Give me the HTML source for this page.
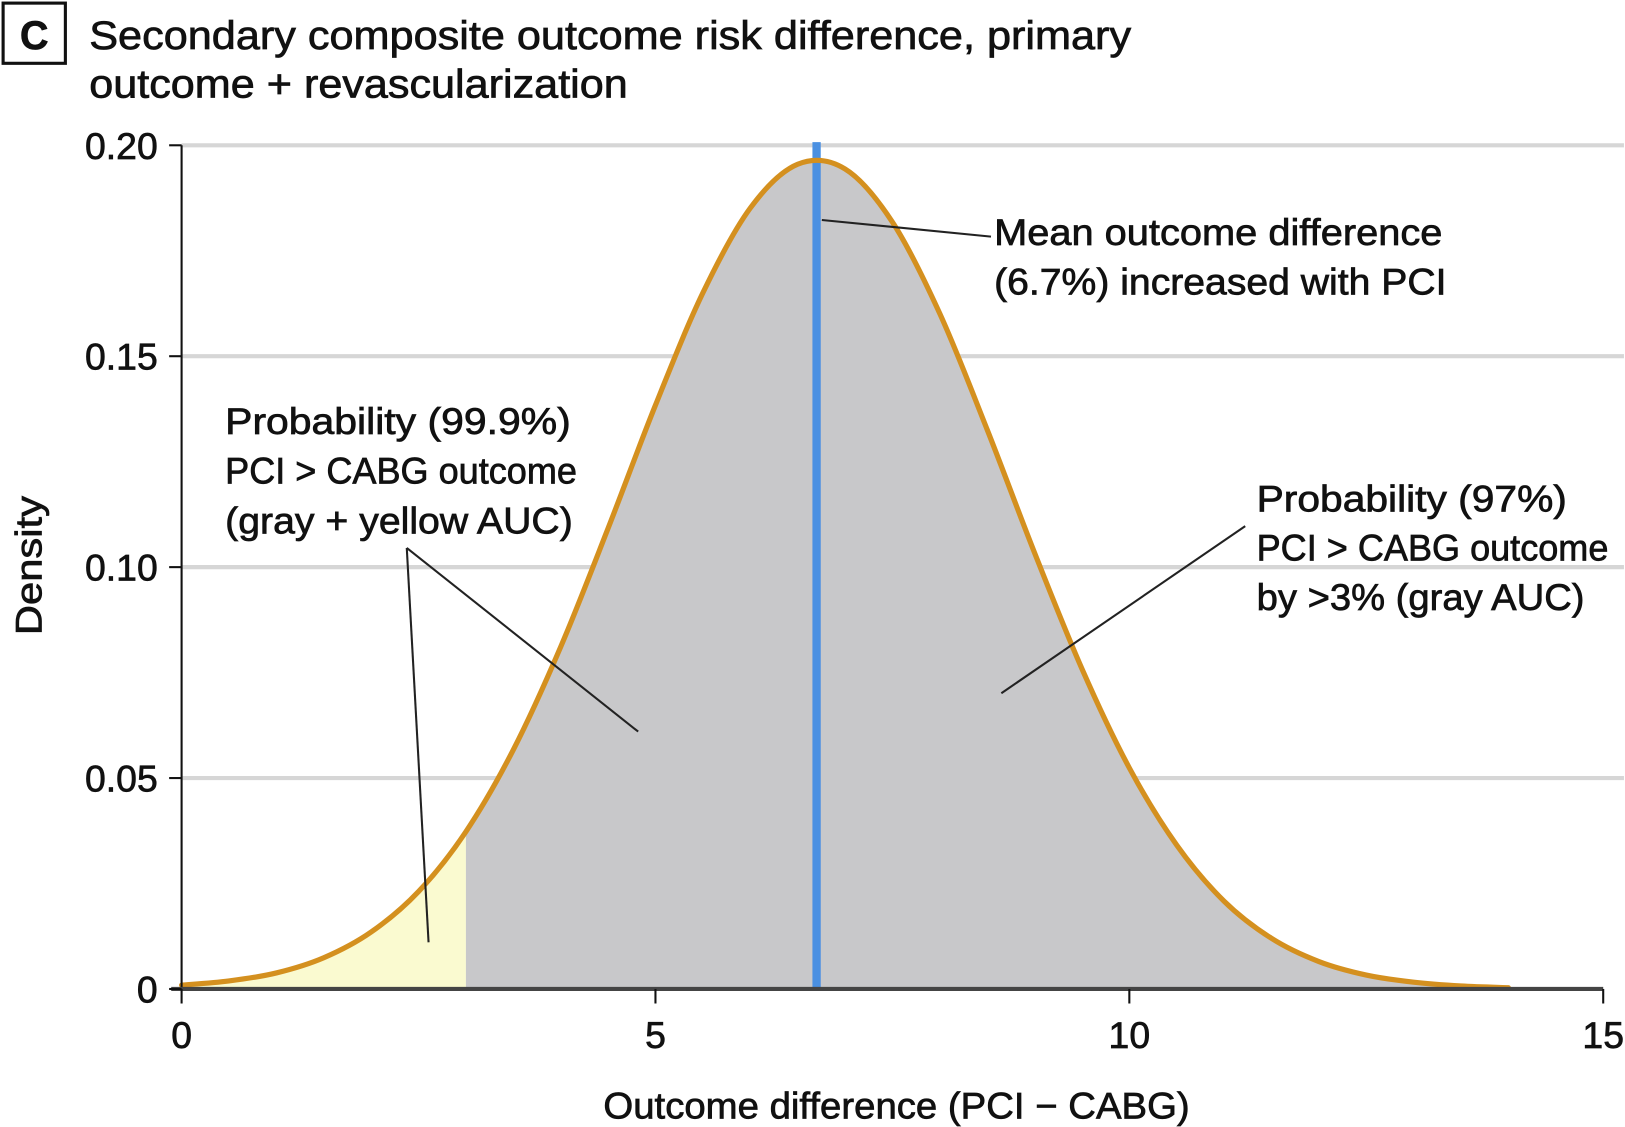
<!DOCTYPE html>
<html><head><meta charset="utf-8"><style>
html,body{margin:0;padding:0;background:#fff;}
svg{display:block;}
text{font-family:"Liberation Sans Narrow","Liberation Sans",sans-serif;fill:#111;stroke:#111;stroke-width:0.7px;}
</style></head><body>
<svg id="chart" width="1625" height="1127" viewBox="0 0 1566 1086" preserveAspectRatio="none" xmlns="http://www.w3.org/2000/svg">
  <g>
    <rect x="3" y="3" width="60" height="58" fill="#fff" stroke="#111" stroke-width="3"/>
    <text x="33" y="47" font-size="38" text-anchor="middle" font-weight="bold">C</text>
    <text x="86" y="47" font-size="38" textLength="1004" lengthAdjust="spacingAndGlyphs">Secondary composite outcome risk difference, primary</text>
    <text x="86" y="94" font-size="38" textLength="519" lengthAdjust="spacingAndGlyphs">outcome + revascularization</text>
  </g>
  <g id="grid"></g>
  <g id="areas"></g>
  <g id="marks"></g>
  <g id="axes"></g>
  <text x="864" y="1078" font-size="36" text-anchor="middle" textLength="565" lengthAdjust="spacingAndGlyphs">Outcome difference (PCI − CABG)</text>
  <text x="0" y="0" font-size="36" text-anchor="middle" transform="translate(40,545) rotate(-90)" textLength="134" lengthAdjust="spacingAndGlyphs">Density</text>
  <g>
    <line x1="792" y1="212" x2="955" y2="228" stroke="#222" stroke-width="2"/>
    <text x="958" y="236" font-size="36" textLength="432" lengthAdjust="spacingAndGlyphs">Mean outcome difference</text>
    <text x="958" y="284" font-size="36" textLength="436" lengthAdjust="spacingAndGlyphs">(6.7%) increased with PCI</text>
  </g>
  <g>
    <line x1="392" y1="528" x2="615" y2="705" stroke="#222" stroke-width="2"/>
    <line x1="392" y1="528" x2="413" y2="908" stroke="#222" stroke-width="2"/>
    <text x="217" y="418" font-size="36" textLength="333" lengthAdjust="spacingAndGlyphs">Probability (99.9%)</text>
    <text x="217" y="466" font-size="36" textLength="339" lengthAdjust="spacingAndGlyphs">PCI &gt; CABG outcome</text>
    <text x="217" y="514" font-size="36" textLength="335" lengthAdjust="spacingAndGlyphs">(gray + yellow AUC)</text>
  </g>
  <g>
    <line x1="1200" y1="507" x2="965" y2="668" stroke="#222" stroke-width="2"/>
    <text x="1211" y="493" font-size="36" textLength="299" lengthAdjust="spacingAndGlyphs">Probability (97%)</text>
    <text x="1211" y="540" font-size="36" textLength="339" lengthAdjust="spacingAndGlyphs">PCI &gt; CABG outcome</text>
    <text x="1211" y="588" font-size="36" textLength="316" lengthAdjust="spacingAndGlyphs">by &gt;3% (gray AUC)</text>
  </g>
</svg>
<script>
const xValues = [0,0.5,1,1.5,2,2.5,3,3.5,4,4.5,5,5.5,6,6.5,7,7.5,8,8.5,9,9.5,10,10.5,11,11.5,12,12.5,13,13.5,14];
const densityValues = [0.0009,0.0019,0.0038,0.0074,0.0135,0.0231,0.0373,0.0567,0.0811,0.1092,0.1384,0.165,0.1851,0.1955,0.1944,0.1818,0.1601,0.1326,0.1034,0.0759,0.0524,0.0341,0.0208,0.012,0.0065,0.0033,0.0016,0.0007,0.0003];
const meanValue = 6.7;
const thresholdValue = 3;
const xTicks = [0,5,10,15];
const yTicks = [0,0.05,0.10,0.15,0.20];
const yTickLabels = ["0","0.05","0.10","0.15","0.20"];

const NS = "http://www.w3.org/2000/svg";
const X0 = 175, X1 = 1545, Y0 = 953, Y1 = 140;
function sx(v){ return X0 + (v - 0) / 15 * (X1 - X0); }
function sy(v){ return Y0 - (v - 0) / 0.2 * (Y0 - Y1); }
function mk(tag, attrs, parent){
  const e = document.createElementNS(NS, tag);
  for (const k in attrs) e.setAttribute(k, attrs[k]);
  parent.appendChild(e); return e;
}
function dens(x){
  for (let i=0;i<xValues.length-1;i++){
    if (x>=xValues[i] && x<=xValues[i+1]){
      const t=(x-xValues[i])/(xValues[i+1]-xValues[i]);
      return densityValues[i]+t*(densityValues[i+1]-densityValues[i]);
    }
  }
  return 0;
}
function smoothPath(pts){
  let d = "M" + pts[0][0] + "," + pts[0][1];
  for (let i=0;i<pts.length-1;i++){
    const p0=pts[Math.max(0,i-1)], p1=pts[i], p2=pts[i+1], p3=pts[Math.min(pts.length-1,i+2)];
    const c1=[p1[0]+(p2[0]-p0[0])/6, p1[1]+(p2[1]-p0[1])/6];
    const c2=[p2[0]-(p3[0]-p1[0])/6, p2[1]-(p3[1]-p1[1])/6];
    d += " C"+c1[0]+","+c1[1]+" "+c2[0]+","+c2[1]+" "+p2[0]+","+p2[1];
  }
  return d;
}
const grid = document.getElementById('grid');
yTicks.forEach(function(t){
  if (t === 0) return;
  const g = mk('line',{x1:X0,x2:X1+20,y1:sy(t),y2:sy(t),stroke:'#d6d6d6','stroke-width':4},grid);
  
  
});
const areas = document.getElementById('areas');
const allPts = xValues.map(function(x,i){ return [sx(x), sy(densityValues[i])]; });
const yPts = [];
xValues.forEach(function(x,i){ if (x < thresholdValue) yPts.push([sx(x), sy(densityValues[i])]); });
yPts.push([sx(thresholdValue), sy(dens(thresholdValue))]);
const gPts = [[sx(thresholdValue), sy(dens(thresholdValue))]];
xValues.forEach(function(x,i){ if (x > thresholdValue) gPts.push([sx(x), sy(densityValues[i])]); });
const yellow = mk('path',{d: smoothPath(yPts)+" L"+sx(thresholdValue)+","+Y0+" L"+sx(xValues[0])+","+Y0+" Z", fill:'#fafad0'},areas);


const gray = mk('path',{d: smoothPath(gPts)+" L"+sx(xValues[xValues.length-1])+","+Y0+" L"+sx(thresholdValue)+","+Y0+" Z", fill:'#c8c8ca'},areas);



const marks = document.getElementById('marks');
const meanLine = mk('line',{x1:sx(meanValue),x2:sx(meanValue),y1:137,y2:Y0,stroke:'#4a90e2','stroke-width':8},marks);


const curve = mk('path',{d: smoothPath(allPts), fill:'none', stroke:'#d4901f','stroke-width':5,'stroke-linecap':'round'},marks);



const axes = document.getElementById('axes');
const yAxis = mk('line',{x1:X0,x2:X0,y1:Y1,y2:Y0,stroke:'#111','stroke-width':2},axes);


const xAxis = mk('line',{x1:X0-10,x2:X1,y1:Y0,y2:Y0,stroke:'#444','stroke-width':4},axes);


yTicks.forEach(function(t,i){
  const tk = mk('line',{x1:X0-12,x2:X0,y1:sy(t),y2:sy(t),stroke:'#111','stroke-width':2},axes);
  
  
  const lb = mk('text',{x:152,y:sy(t)+13,'font-size':36,'text-anchor':'end'},axes);
  lb.textContent = yTickLabels[i];
  
  
});
xTicks.forEach(function(t){
  const tk = mk('line',{x1:sx(t),x2:sx(t),y1:Y0,y2:Y0+14,stroke:'#111','stroke-width':2},axes);
  
  
  const lb = mk('text',{x:sx(t),y:1010,'font-size':36,'text-anchor':'middle'},axes);
  lb.textContent = String(t);
  
  
});
</script>
</body></html>
